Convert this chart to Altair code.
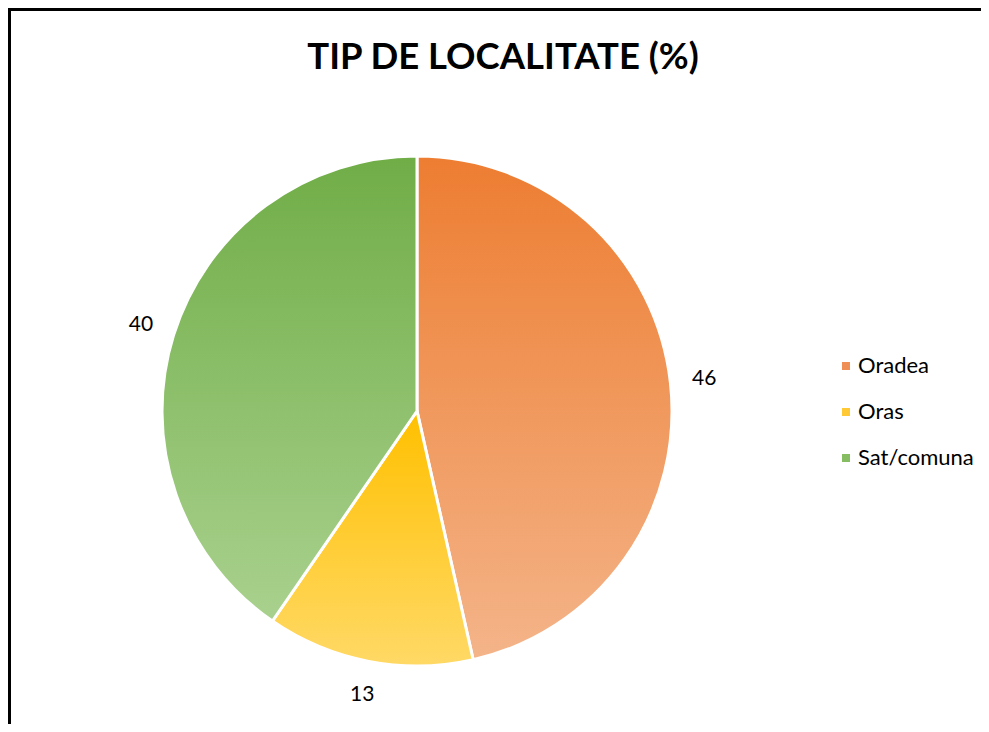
import altair as alt
import pandas as pd

categories = ["Oradea", "Oras", "Sat/comuna"]
values = [46, 13, 40]
order = [0, 1, 2]
legend_colors = ["#EF8F55", "#FFC935", "#86BC62"]
grad_top = ["#ED7D31", "#FFC000", "#70AD47"]
grad_bottom = ["#F4B489", "#FFD966", "#A9D18E"]
title_text = "TIP DE LOCALITATE (%)"

total = sum(values)
df = pd.DataFrame({"category": categories, "value": values, "order": order})

W, H = 973, 716
CX, CY = 409, 403
R = 255
FONT = "Lato"

theta_scale = alt.Scale(domain=[0, total])

base = alt.Chart(df).transform_window(
    cum="sum(value)", sort=[alt.SortField("order")], frame=[None, 0]
).transform_calculate(
    start="datum.cum - datum.value", mid="datum.cum - datum.value / 2"
)

legend_layer = base.mark_arc(outerRadius=R, opacity=0).encode(
    theta=alt.Theta("start:Q", scale=theta_scale),
    theta2="cum:Q",
    x=alt.value(CX),
    y=alt.value(CY),
    color=alt.Color(
        "category:N",
        scale=alt.Scale(domain=categories, range=legend_colors),
        legend=alt.Legend(
            title=None,
            orient="none",
            legendX=827,
            legendY=347,
            symbolType="square",
            symbolSize=64,
            symbolOpacity=1,
            symbolStrokeWidth=0,
            labelFont=FONT,
            labelFontSize=22,
            labelColor="#000000",
            labelOffset=1,
            rowPadding=24,
            padding=0,
        ),
    ),
)

slice_layers = []
for cat, top, bottom in zip(categories, grad_top, grad_bottom):
    grad = alt.LinearGradient(
        gradient="linear",
        x1=0, x2=0, y1=0, y2=1,
        stops=[alt.GradientStop(color=top, offset=0),
               alt.GradientStop(color=bottom, offset=1)],
    )
    slice_layers.append(
        base.transform_filter(alt.datum.category == cat)
        .mark_arc(outerRadius=R, fill=grad, stroke="white", strokeWidth=3)
        .encode(
            theta=alt.Theta("start:Q", scale=theta_scale),
            theta2="cum:Q",
            x=alt.value(CX),
            y=alt.value(CY),
        )
    )

labels = base.mark_text(
    radius=289, font=FONT, fontSize=21, color="#000000",
    align="center", baseline="middle"
).encode(
    theta=alt.Theta("mid:Q", scale=theta_scale),
    x=alt.value(CX),
    y=alt.value(CY),
    text=alt.Text("value:Q"),
)

title_df = pd.DataFrame({"t": [title_text]})
title = alt.Chart(title_df).mark_text(
    font=FONT, fontSize=36.5, fontWeight="bold", color="#000000",
    align="center", baseline="alphabetic"
).encode(x=alt.value(495), y=alt.value(61), text="t:N")

border_df = pd.DataFrame({"k": [0]})
left_rule = alt.Chart(border_df).mark_rule(color="#000000", strokeWidth=3).encode(
    x=alt.value(1.5), y=alt.value(0), y2=alt.value(H)
)
top_rule = alt.Chart(border_df).mark_rule(color="#000000", strokeWidth=3).encode(
    x=alt.value(0), x2=alt.value(W), y=alt.value(1.5)
)

chart = alt.layer(
    legend_layer, *slice_layers, labels, title, left_rule, top_rule
).properties(
    width=W, height=H, padding=0,
    autosize=alt.AutoSizeParams(type="none"),
    background="white",
).configure_view(stroke=None)

chart.save("out.html", embed_options={"renderer": "svg", "actions": False})
